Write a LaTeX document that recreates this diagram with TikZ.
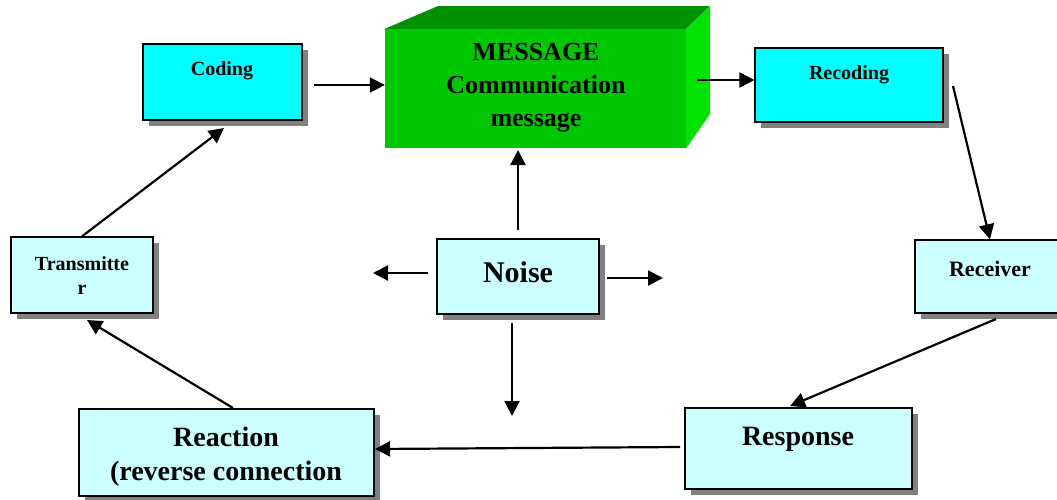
\documentclass[tikz,border=0pt]{standalone}
\usepackage{fontspec}
\setmainfont{Liberation Serif}
\usetikzlibrary{shadows,arrows.meta}
\definecolor{cyanbox}{RGB}{0,255,255}
\definecolor{lightbox}{RGB}{204,255,255}
\definecolor{gfront}{RGB}{0,200,0}
\definecolor{gtop}{RGB}{0,145,0}
\definecolor{gside}{RGB}{0,226,0}
\definecolor{shade}{RGB}{128,128,128}
\begin{document}
\begin{tikzpicture}[x=1pt,y=-1pt,
  box/.style={draw=black, line width=1.3pt, rectangle, inner sep=0pt,
    drop shadow={shadow xshift=6pt,shadow yshift=-6pt,fill=shade,opacity=1}},
  arr/.style={-{Triangle[length=15pt,width=15pt]}, line width=2.2pt},
  lbl/.style={align=center, inner sep=0pt}]
\clip (0,0) rectangle (1057,499);
\fill[white] (0,0) rectangle (1057,499);

% boxes
\node[box, fill=cyanbox, minimum width=159pt, minimum height=76pt] (coding) at (222.5,82) {};
\node[box, fill=cyanbox, minimum width=188pt, minimum height=74pt] (recoding) at (849,85) {};
\node[box, fill=lightbox, minimum width=142pt, minimum height=76pt] (transmitter) at (82,275) {};
\node[box, fill=lightbox, minimum width=162pt, minimum height=75pt] (noise) at (518,276.5) {};
\node[box, fill=lightbox, minimum width=150pt, minimum height=73pt] (receiver) at (990,276.5) {};
\node[box, fill=lightbox, minimum width=295pt, minimum height=87pt] (reaction) at (226.5,452.5) {};
\node[box, fill=lightbox, minimum width=227pt, minimum height=81pt] (response) at (798.5,448.5) {};

% 3D message block
\node[fill=gfront, inner sep=0pt, minimum width=301pt, minimum height=119pt] (msg) at (535.5,88.5) {};
\fill[gtop] (msg.north west) -- (438,6) -- (710,6) -- (msg.north east) -- cycle;
\fill[gside] (msg.north east) -- (710,6) -- (710,114) -- (msg.south east) -- cycle;

% texts
\node[lbl, font=\fontsize{20}{24}\selectfont\bfseries] (codingT) at (222,71) {Coding};
\node[lbl, font=\fontsize{20}{24}\selectfont\bfseries] (recodingT) at (849,75) {Recoding};
\node[lbl, font=\fontsize{20}{24}\selectfont\bfseries] (transmitterT) at (82,276) {Transmitte\\r};
\node[lbl, font=\fontsize{30}{34}\selectfont\bfseries] (noiseT) at (518,272) {Noise};
\node[lbl, font=\fontsize{22}{26}\selectfont\bfseries] (receiverT) at (990,269) {Receiver};
\node[lbl, font=\fontsize{28}{34}\selectfont\bfseries] (reactionT) at (226,457) {Reaction\\(reverse connection};
\node[lbl, font=\fontsize{28}{34}\selectfont\bfseries] (responseT) at (798,439) {Response};
\node[lbl, font=\fontsize{26}{33}\selectfont\bfseries] (msgT) at (536,88) {MESSAGE\\Communication\\message};

% free ends of connectors
\coordinate (c1) at (314,85);
\coordinate (c2) at (697,80);
\coordinate (c3) at (953,86);
\coordinate (c4) at (996,319);
\coordinate (c4e) at (790,406);
\coordinate (c5) at (680,447);
\coordinate (c5e) at (375,449);
\coordinate (c6) at (233,408);
\coordinate (c6e) at (87,320);
\coordinate (c7e) at (224,128);
\coordinate (n1s) at (518,230);
\coordinate (n1e) at (518,150);
\coordinate (n2s) at (428,273);
\coordinate (n2e) at (373,273);
\coordinate (n3s) at (607,278);
\coordinate (n3e) at (663,278);
\coordinate (n4s) at (512,323);
\coordinate (n4e) at (512,416);

% connectors
\draw[arr] (c1) -- (c1 -| msg.west);
\draw[arr] (c2) -- (c2 -| recoding.west);
\draw[arr] (c3) -- (receiver.north);
\draw[arr] (c4) -- (c4e);
\draw[arr] (c5) -- (c5e);
\draw[arr] (c6) -- (c6e);
\draw[arr] (transmitter.north) -- (c7e);
\draw[arr] (n1s) -- (n1e);
\draw[arr] (n2s) -- (n2e);
\draw[arr] (n3s) -- (n3e);
\draw[arr] (n4s) -- (n4e);
\end{tikzpicture}
\end{document}
